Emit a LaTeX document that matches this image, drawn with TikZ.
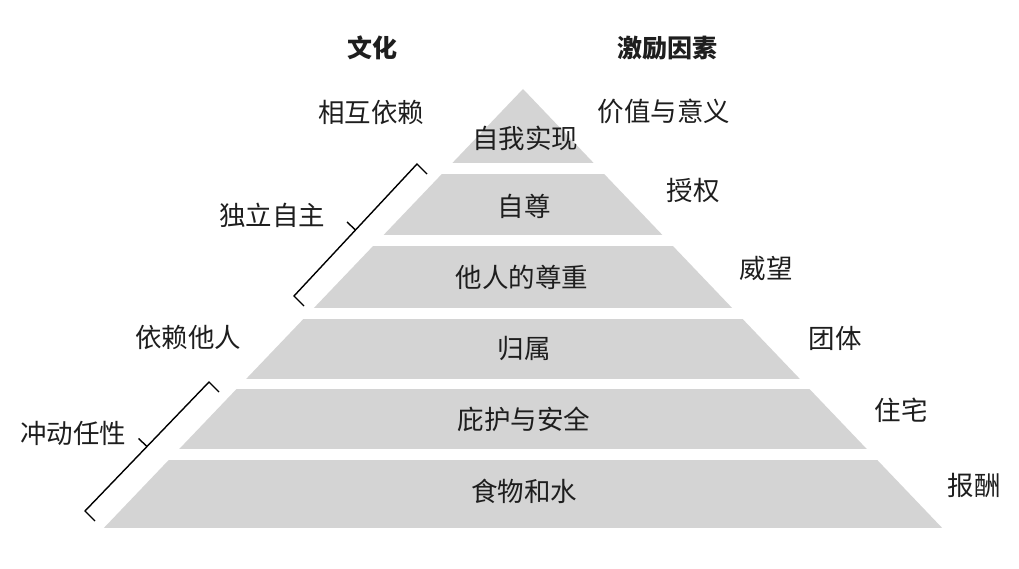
\documentclass[tikz,border=0pt]{standalone}
\usepackage{fontspec}
\setmainfont{Noto Sans CJK SC}
\definecolor{bandgray}{RGB}{212,212,212}
\definecolor{ink}{RGB}{30,30,30}
\begin{document}
\begin{tikzpicture}[x=1pt,y=-1pt,
  lbl/.style={inner sep=0pt,text=ink,font=\fontsize{26.5}{30}\selectfont},
  head/.style={inner sep=0pt,text=ink,font=\fontsize{25}{29}\selectfont\bfseries},
  brace/.style={draw=black,line width=1.4pt,line join=miter}]
\useasboundingbox (0,0) rectangle (1019,569);
% pyramid cut into bands
\coordinate (apex) at (523,89);
\coordinate (baseL) at (103.8,528);
\coordinate (baseR) at (942.2,528);
\begin{scope}
  \clip (apex) -- (baseR) -- (baseL) -- cycle;
  \fill[bandgray] (0,80) rectangle (1019,163);
  \fill[bandgray] (0,174) rectangle (1019,235);
  \fill[bandgray] (0,246) rectangle (1019,308);
  \fill[bandgray] (0,319) rectangle (1019,379);
  \fill[bandgray] (0,389) rectangle (1019,449);
  \fill[bandgray] (0,460) rectangle (1019,528);
\end{scope}
% band labels
\node[lbl] (l1) at (525,138) {自我实现};
\node[lbl] (l2) at (524,206) {自尊};
\node[lbl] (l3) at (522,277) {他人的尊重};
\node[lbl] (l4) at (524,348) {归属};
\node[lbl] (l5) at (524,419) {庇护与安全};
\node[lbl] (l6) at (524,491) {食物和水};
% headers
\node[head] (hc) at (372,48) {文化};
\node[head] (hm) at (667,48) {激励因素};
% culture column
\node[lbl] (c1) at (371,112) {相互依赖};
\node[lbl] (c2) at (272,215) {独立自主};
\node[lbl] (c3) at (188,337) {依赖他人};
\node[lbl] (c4) at (73,433) {冲动任性};
% motivator column
\node[lbl] (m1) at (664,111) {价值与意义};
\node[lbl] (m2) at (693,190) {授权};
\node[lbl] (m3) at (766,268) {威望};
\node[lbl] (m4) at (835,338) {团体};
\node[lbl] (m5) at (901,410) {住宅};
\node[lbl] (m6) at (974,485) {报酬};
% brackets
\coordinate (b1a) at (427,174);
\coordinate (b1s) at (417,164);
\coordinate (b1e) at (294,296);
\coordinate (b1b) at (304,306);
\coordinate (b1m) at (355.5,230);
\coordinate (b1t) at (347,222);
\draw[brace] (b1a) -- (b1s) -- (b1e) -- (b1b);
\draw[brace] (b1m) -- (b1t);
\coordinate (b2a) at (219,392);
\coordinate (b2s) at (209,382);
\coordinate (b2e) at (85,511);
\coordinate (b2b) at (95,521);
\coordinate (b2m) at (147,446.5);
\coordinate (b2t) at (138.5,438.5);
\draw[brace] (b2a) -- (b2s) -- (b2e) -- (b2b);
\draw[brace] (b2m) -- (b2t);
\end{tikzpicture}
\end{document}
